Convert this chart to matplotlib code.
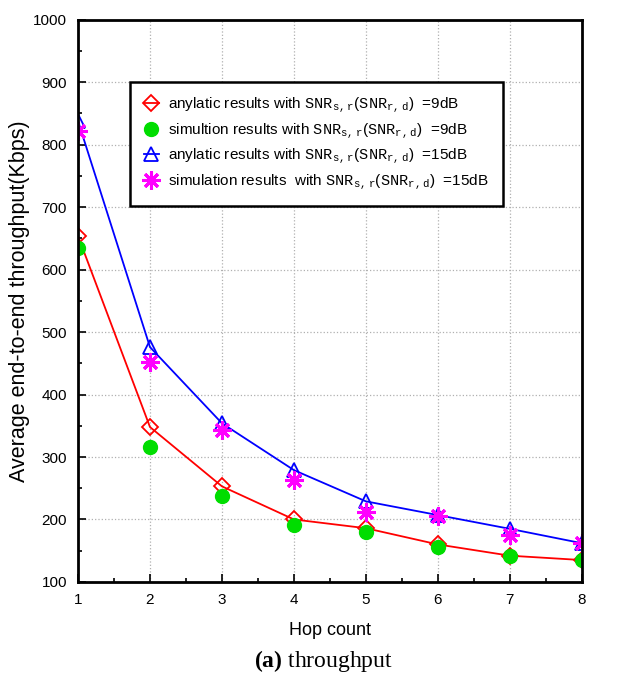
'''
Average end-to-end throughput versus hop count (analytic vs simulation).
'''
import matplotlib
matplotlib.use('Agg')
import matplotlib.pyplot as plt
import numpy as np

plt.rcParams['font.family'] = ['Liberation Sans', 'DejaVu Sans']
plt.rcParams['mathtext.fontset'] = 'custom'
plt.rcParams['mathtext.tt'] = 'Liberation Mono'
plt.rcParams['mathtext.rm'] = 'Liberation Sans'
plt.rcParams['mathtext.bf'] = 'Liberation Serif:bold'

hops = [1, 2, 3, 4, 5, 6, 7, 8]
ana_9db = [654, 348, 253, 200, 186, 160, 142, 135]
sim_9db = [635, 316, 237, 191, 180, 156, 141, 135]
ana_15db = [838, 476, 354, 279, 229, 207, 185, 162]
sim_15db = [822, 452, 344, 263, 212, 206, 175, 162]

snr = r'$\mathtt{SNR}_{\mathtt{s,r}}(\mathtt{SNR}_{\mathtt{r,d}})$'
labels = [
    'anylatic results with ' + snr + '  =9dB',
    'simultion results with ' + snr + '  =9dB',
    'anylatic results with ' + snr + '  =15dB',
    'simulation results  with ' + snr + '  =15dB',
]

fig = plt.figure(figsize=(6.29, 6.83), dpi=100)
ax = fig.add_axes([0.124, 0.148, 0.801, 0.823])

ax.plot(hops, ana_9db, color='red', lw=1.3, marker='D', ms=8, mfc='none',
        mec='red', mew=1.3, label=labels[0])
ax.plot(hops, sim_9db, ls='none', marker='o', ms=10, color='#00dd00',
        label=labels[1])
ax.plot(hops, ana_15db, color='blue', lw=1.3, marker='^', ms=10, mfc='none',
        mec='blue', mew=1.3, label=labels[2])
ax.plot(hops, sim_15db, ls='none', marker=(8, 2, 0), ms=13, color='magenta',
        mew=2.2, label=labels[3])

ax.set_xlim(1, 8)
ax.set_ylim(100, 1000)
ax.set_xticks(np.arange(1, 9))
ax.set_yticks(np.arange(100, 1001, 100))
ax.set_xticks(np.arange(1.5, 8, 1), minor=True)
ax.set_yticks(np.arange(150, 1000, 100), minor=True)
ax.tick_params(which='both', direction='in', top=False, right=False, width=1.2)
ax.tick_params(which='major', length=6, labelsize=11, pad=8)
ax.tick_params(which='minor', length=3)
ax.grid(True, which='major', ls=':', color='#b0b0b0', lw=0.9)
for sp in ax.spines.values():
    sp.set_linewidth(2)

ax.set_xlabel('Hop count', fontsize=13, labelpad=11)
ax.set_ylabel('Average end-to-end throughput(Kbps)', fontsize=15.5, labelpad=2)

leg = ax.legend(loc='upper left', bbox_to_anchor=(0.103, 0.89), fontsize=11,
                handlelength=1.0, handletextpad=0.6, borderpad=0.9,
                borderaxespad=0, labelspacing=0.4, fancybox=False,
                framealpha=1, edgecolor='black')
leg.get_frame().set_linewidth(1.8)

fig.text(0.515, 0.023, r'$\mathbf{(a)}$ throughput', ha='center', fontsize=17,
         family='Liberation Serif')

fig.savefig('out.png', dpi=100)
